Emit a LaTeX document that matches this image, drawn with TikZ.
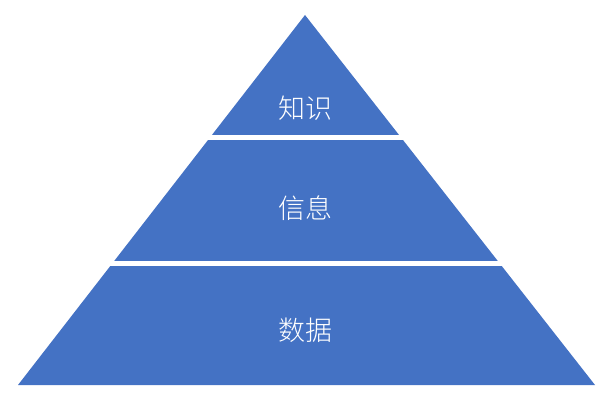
\documentclass[tikz,border=0pt]{standalone}
\usepackage{fontspec}
\setmainfont{Noto Sans CJK SC Light}
\definecolor{pblue}{HTML}{4472C4}
\begin{document}
\begin{tikzpicture}[x=1pt,y=-1pt,lbl/.style={text=white,font=\fontsize{27}{30}\selectfont}]
\useasboundingbox (0,0) rectangle (610,403);
\fill[pblue] (305,15) -- (595,385) -- (18,385) -- cycle;
\draw[white,line width=5pt] (0,137.5) -- (610,137.5);
\draw[white,line width=5pt] (0,263.5) -- (610,263.5);
\node[lbl] (k) at (305,108) {知识};
\node[lbl] (i) at (305,208) {信息};
\node[lbl] (d) at (305,330) {数据};
\end{tikzpicture}
\end{document}
